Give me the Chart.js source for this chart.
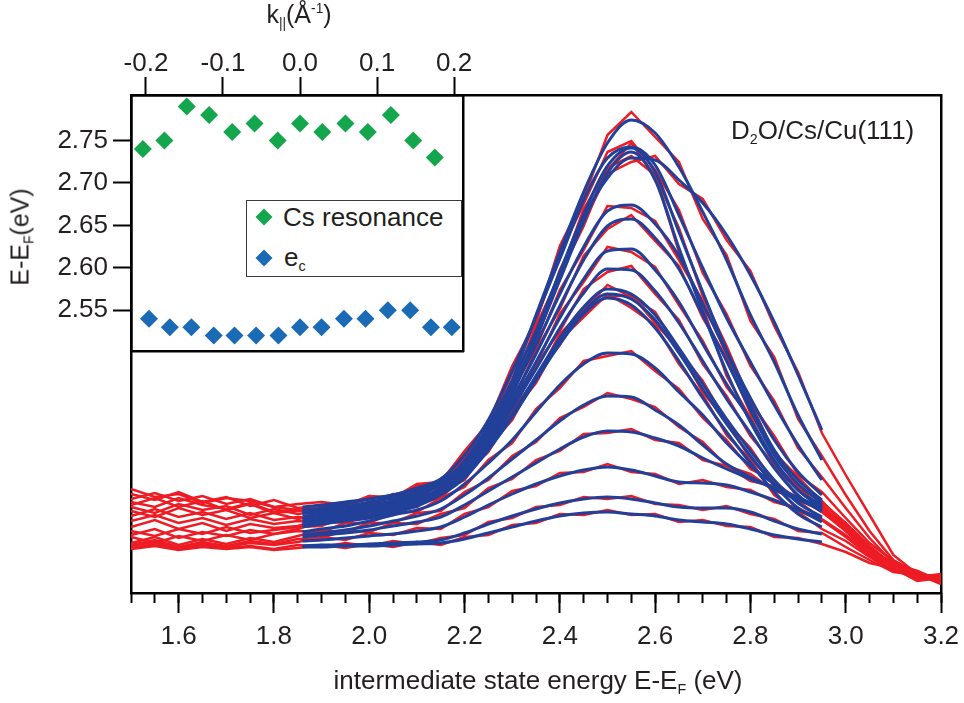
<!DOCTYPE html>
<html>
<head>
<meta charset="utf-8">
<script src="https://cdn.jsdelivr.net/npm/chart.js@4.4.1/dist/chart.umd.min.js"></script>
<style>
body{margin:0;background:#fff;font-family:"Liberation Sans",Arial,sans-serif;color:#231f20}
#wrap{position:relative;width:964px;height:703px;overflow:hidden}
canvas{position:absolute;left:0;top:0}
.txt{position:absolute;white-space:nowrap;font-size:25px;line-height:30px}
.sub{font-size:55%;position:relative;top:0.35em}
.sup{font-size:55%;position:relative;top:-0.7em}
#legend{position:absolute;left:246px;top:200px;width:216px;height:77px;border:1.5px solid #3a3a3a;background:#fff;box-sizing:border-box}
.dia{position:absolute;width:12px;height:12px;transform:translate(-50%,-50%) rotate(45deg)}
</style>
</head>
<body>
<div id="wrap">
  <canvas id="main" width="964" height="703"></canvas>
  <canvas id="inset" width="500" height="372"></canvas>
  <div id="legend">
    <span class="dia" style="left:17px;top:16px;background:#14a64c"></span>
    <div class="txt" style="left:36px;top:1px;font-size:26px">Cs resonance</div>
    <span class="dia" style="left:17px;top:57px;background:#1b6ab5"></span>
    <div class="txt" style="left:37px;top:41px;font-size:26px">e<span class="sub">c</span></div>
  </div>
  <div class="txt" style="left:731px;top:115px;font-size:26px">D<span class="sub">2</span>O/Cs/Cu(111)</div>
  <div class="txt" style="left:538px;top:665px;transform:translateX(-50%);font-size:26px">intermediate state energy E-E<span class="sub">F</span> (eV)</div>
  <div class="txt" style="left:22px;top:237px;transform:translate(-50%,-50%) rotate(-90deg)">E-E<span class="sub">F</span>(eV)</div>
  <div class="txt" style="left:299px;top:16px;transform:translate(-50%,-50%)">k<span class="sub">||</span>(Å<span class="sup">-1</span>)</div>
</div>
<script>
// spectra: energy grids (eV) and intensities (arb. units)
const rawEnergy = [1.50,1.55,1.60,1.65,1.70,1.75,1.80,1.85,1.90,1.95,2.00,2.05,2.10,2.15,2.20,2.25,2.30,2.35,2.40,2.45,2.50,2.55,2.60,2.65,2.70,2.75,2.80,2.85,2.90,2.95,3.00,3.05,3.10,3.15,3.20];
const fitEnergy = [1.86,1.90,1.95,2.00,2.05,2.10,2.15,2.20,2.25,2.30,2.35,2.40,2.45,2.50,2.55,2.60,2.65,2.70,2.75,2.80,2.85,2.90,2.95];

const rawSpectra = [
  [99,93,101,91,96,87,93,85, 87,83,90,89,103,107,136,164,220,271,347,395,458,481,456,431,374,338,272,236,174,137, 98,62,33,20,14],
  [94,100,92,97,89,94,86,83, 88,86,97,95,109,111,142,170,227,272,339,389,441,452,423,383,320,279,227,192,145,116, 85,55,30,22,12],
  [91,86,95,88,84,90,81,84, 80,89,88,99,98,114,127,167,207,267,318,384,423,450,417,365,297,247,191,157,118,101, 75,50,32,17,15],
  [104,96,99,90,95,92,86,89, 91,88,97,95,107,109,134,157,210,251,318,367,425,437,418,341,286,217,175,128,106,85, 68,45,27,21,10],
  [88,95,86,92,83,89,80,82, 84,80,88,86,97,101,128,154,203,255,323,371,419,431,437,409,394,353,322,267,221,160, 118,78,38,19,16],
  [86,80,89,83,87,78,84,79, 82,80,91,90,103,108,133,157,205,245,303,343,387,385,372,333,292,238,191,140,116,91, 70,47,28,18,13],
  [77,84,76,81,74,80,73,76, 74,84,83,93,95,111,123,158,191,243,284,337,364,378,352,327,275,235,180,141,106,92, 67,44,30,16,18],
  [82,76,85,78,83,75,80,74, 78,76,86,85,97,102,126,149,193,228,279,311,346,341,326,288,252,206,176,130,105,83, 64,43,25,22,11],
  [72,78,70,75,68,74,69,72, 70,80,78,88,89,106,118,152,182,228,262,304,321,327,299,273,229,197,157,128,95,83, 62,41,27,15,17],
  [66,73,64,70,62,69,65,67, 74,72,81,80,93,97,121,143,183,214,259,283,308,296,281,242,212,171,145,110,92,74, 58,40,24,19,9],
  [62,57,64,59,66,60,63,66, 67,77,75,84,86,102,113,146,173,217,248,285,296,298,270,243,201,172,134,111,82,73, 56,38,29,14,16],
  [58,64,55,61,57,63,59,64, 72,70,78,78,90,95,118,141,180,210,253,276,299,285,268,229,198,158,133,98,81,64, 52,36,22,20,12],
  [56,50,57,52,58,53,59,62, 61,70,70,81,81,95,106,133,150,184,205,232,237,242,222,204,175,153,124,112,92,87, 63,42,26,16,19],
  [50,56,48,54,49,55,51,57, 63,61,70,70,80,82,101,113,137,151,175,186,200,194,186,166,151,127,119,102,95,81, 62,40,23,21,10],
  [48,53,46,51,47,52,49,54, 55,63,61,70,69,79,85,105,114,133,142,159,160,164,153,150,133,127,112,107,93,88, 64,41,28,17,14],
  [47,51,45,49,46,50,48,51, 56,53,60,58,65,64,79,86,102,107,120,121,129,121,119,109,113,106,103,91,85,73, 57,37,24,13,18],
  [45,49,44,48,45,47,44,48, 46,50,47,52,49,55,58,71,75,86,88,96,94,97,89,88,83,87,79,74,62,60, 46,33,21,18,11],
  [44,47,43,46,44,46,43,45, 48,45,49,46,51,48,56,58,68,70,79,78,83,78,79,71,73,67,66,56,55,49, 41,30,25,12,15]
];

const fitSpectra = [
  [83,84,86,88,92,99,110,132,168,213,278,341,401,450,473,460,426,381,333,278,231,178,133],
  [82,85,89,94,98,105,114,138,173,222,276,334,393,435,446,428,378,325,275,231,188,148,113],
  [80,83,86,91,95,101,110,130,163,211,262,321,379,427,445,421,361,301,243,195,153,121,98],
  [86,88,91,94,98,104,112,130,160,205,255,313,371,420,441,413,345,281,221,171,131,103,88],
  [80,81,83,85,88,94,104,124,157,198,258,318,375,415,435,433,413,390,358,318,271,218,163],
  [77,79,83,88,92,100,111,130,160,201,248,299,346,382,388,369,337,289,241,188,143,113,93],
  [75,77,81,85,90,97,108,126,155,194,239,287,333,367,374,355,324,278,232,183,138,109,90],
  [73,75,79,83,88,94,105,123,152,189,231,275,314,342,344,323,291,249,209,173,133,103,85],
  [71,73,77,81,85,92,103,121,149,185,224,265,300,324,323,302,270,232,194,160,125,98,81],
  [69,71,75,78,83,90,100,118,146,179,217,255,286,304,299,278,245,209,174,142,113,90,76],
  [68,70,74,77,81,88,99,116,143,176,213,251,281,299,294,273,240,204,169,137,108,85,71],
  [66,69,72,75,80,87,98,115,144,176,213,249,279,295,288,265,232,195,161,130,101,79,66],
  [61,64,67,72,78,83,92,109,130,153,181,208,229,240,239,225,201,178,150,127,109,95,85],
  [58,60,63,67,72,77,84,98,115,134,153,172,188,197,196,183,168,148,129,116,104,93,83],
  [56,58,60,63,67,71,76,88,102,116,130,144,156,162,161,155,147,135,124,114,105,95,86],
  [52,53,55,57,59,62,66,76,88,99,109,117,123,126,123,117,111,110,108,101,93,83,75],
  [47,48,48,49,50,51,53,60,69,77,84,90,94,96,94,90,86,85,85,81,72,64,59],
  [46,46,47,47,48,49,50,54,60,66,72,77,80,81,79,77,73,71,69,64,58,54,51]
];

// inset: peak positions vs parallel momentum
const kCs = [-0.204,-0.176,-0.147,-0.118,-0.088,-0.059,-0.029,0.000,0.029,0.059,0.088,0.118,0.147,0.175];
const csResonance = [2.74,2.75,2.79,2.78,2.76,2.77,2.75,2.77,2.76,2.77,2.76,2.78,2.75,2.73];
const kEc = [-0.196,-0.169,-0.141,-0.112,-0.085,-0.057,-0.028,0.000,0.028,0.057,0.085,0.114,0.143,0.170,0.197];
const ecEnergy = [2.54,2.53,2.53,2.52,2.52,2.52,2.52,2.53,2.53,2.54,2.54,2.55,2.55,2.53,2.53];

const FONT = '"Liberation Sans", Arial, sans-serif';
const INK = '#231f20';
const RED = '#ed1c24', FITBLUE = '#21409a', GREEN = '#14a64c', DOTBLUE = '#1b6ab5';

const zip = (xs, ys) => ys.map((y, i) => ({x: xs[i], y}));

const frame = (pos, extra) => Object.assign({
  type: 'linear', position: pos, display: true,
  ticks: {display: false}, grid: {display: false},
  border: {display: true, color: '#000', width: 2.5}
}, extra);

const datasets = [];
fitSpectra.forEach(s => datasets.push({
  data: zip(fitEnergy, s), borderColor: FITBLUE, borderWidth: 3,
  cubicInterpolationMode: 'monotone', order: 1, xAxisID: 'x', yAxisID: 'y'
}));
rawSpectra.forEach(s => datasets.push({
  data: zip(rawEnergy, s), borderColor: RED, borderWidth: 2.5,
  tension: 0, order: 2, xAxisID: 'x', yAxisID: 'y'
}));

new Chart(document.getElementById('main'), {
  type: 'line',
  data: {datasets},
  options: {
    responsive: false, animation: false,
    layout: {padding: {left: 131, right: 23, top: 95, bottom: 0}},
    plugins: {legend: {display: false}, tooltip: {enabled: false}},
    elements: {point: {radius: 0}},
    scales: {
      xMinor: {
        type: 'linear', position: 'bottom', weight: 0, min: 1.5, max: 3.2,
        ticks: {stepSize: 0.05, display: false},
        grid: {drawOnChartArea: false, tickLength: 10, tickWidth: 2, tickColor: '#000'},
        border: {display: false},
        afterFit: s => { s.height = 0; }
      },
      x: {
        type: 'linear', position: 'bottom', weight: 1, min: 1.5, max: 3.2,
        ticks: {stepSize: 0.2, includeBounds: false, autoSkip: false, maxRotation: 0,
          callback: v => v.toFixed(1), color: INK, padding: 4,
          font: {size: 26, family: FONT, lineHeight: 1.55}},
        grid: {drawOnChartArea: false, tickLength: 20, tickWidth: 2, tickColor: '#000'},
        border: {display: true, color: '#000', width: 2.5},
        afterFit: s => { s.height = 110; }
      },
      xTop: frame('top', {min: 1.5, max: 3.2, afterFit: s => { s.height = 0; }}),
      y: frame('left', {min: 0, max: 498, afterFit: s => { s.width = 0; }}),
      yRight: frame('right', {min: 0, max: 498, afterFit: s => { s.width = 0; }})
    }
  }
});

new Chart(document.getElementById('inset'), {
  type: 'scatter',
  data: {datasets: [
    {label: 'Cs resonance', data: zip(kCs, csResonance), pointStyle: 'rectRot', pointRadius: 9,
      backgroundColor: GREEN, borderWidth: 0, xAxisID: 'k', yAxisID: 'e'},
    {label: 'e_c', data: zip(kEc, ecEnergy), pointStyle: 'rectRot', pointRadius: 9,
      backgroundColor: DOTBLUE, borderWidth: 0, xAxisID: 'k', yAxisID: 'e'}
  ]},
  options: {
    responsive: false, animation: false,
    layout: {padding: {left: 0, right: 37, top: 0, bottom: 5}},
    plugins: {legend: {display: false}, tooltip: {enabled: false}},
    scales: {
      k: {
        type: 'linear', position: 'top', min: -0.2194, max: 0.2116,
        ticks: {stepSize: 0.1, includeBounds: false, autoSkip: false, maxRotation: 0,
          callback: v => v.toFixed(1), color: INK, padding: -2, font: {size: 26, family: FONT}},
        grid: {drawOnChartArea: false, tickLength: 18, tickWidth: 2, tickColor: '#000'},
        border: {display: true, color: '#000', width: 2.5},
        afterFit: s => { s.height = 95; }
      },
      e: {
        type: 'linear', position: 'left', min: 2.5014, max: 2.8037,
        ticks: {stepSize: 0.05, includeBounds: false, autoSkip: false,
          callback: v => v.toFixed(2), color: INK, padding: 5, font: {size: 26, family: FONT}},
        afterBuildTicks: s => { s.ticks = s.ticks.filter(t => t.value < 2.78); },
        grid: {drawOnChartArea: false, tickLength: 18, tickWidth: 2, tickColor: '#000'},
        border: {display: true, color: '#000', width: 2.5},
        afterFit: s => { s.width = 131; }
      },
      kBottom: frame('bottom', {min: -0.2194, max: 0.2116, afterFit: s => { s.height = 0; }}),
      eRight: frame('right', {min: 2.5014, max: 2.8037, afterFit: s => { s.width = 0; }})
    }
  }
});
</script>
</body>
</html>
